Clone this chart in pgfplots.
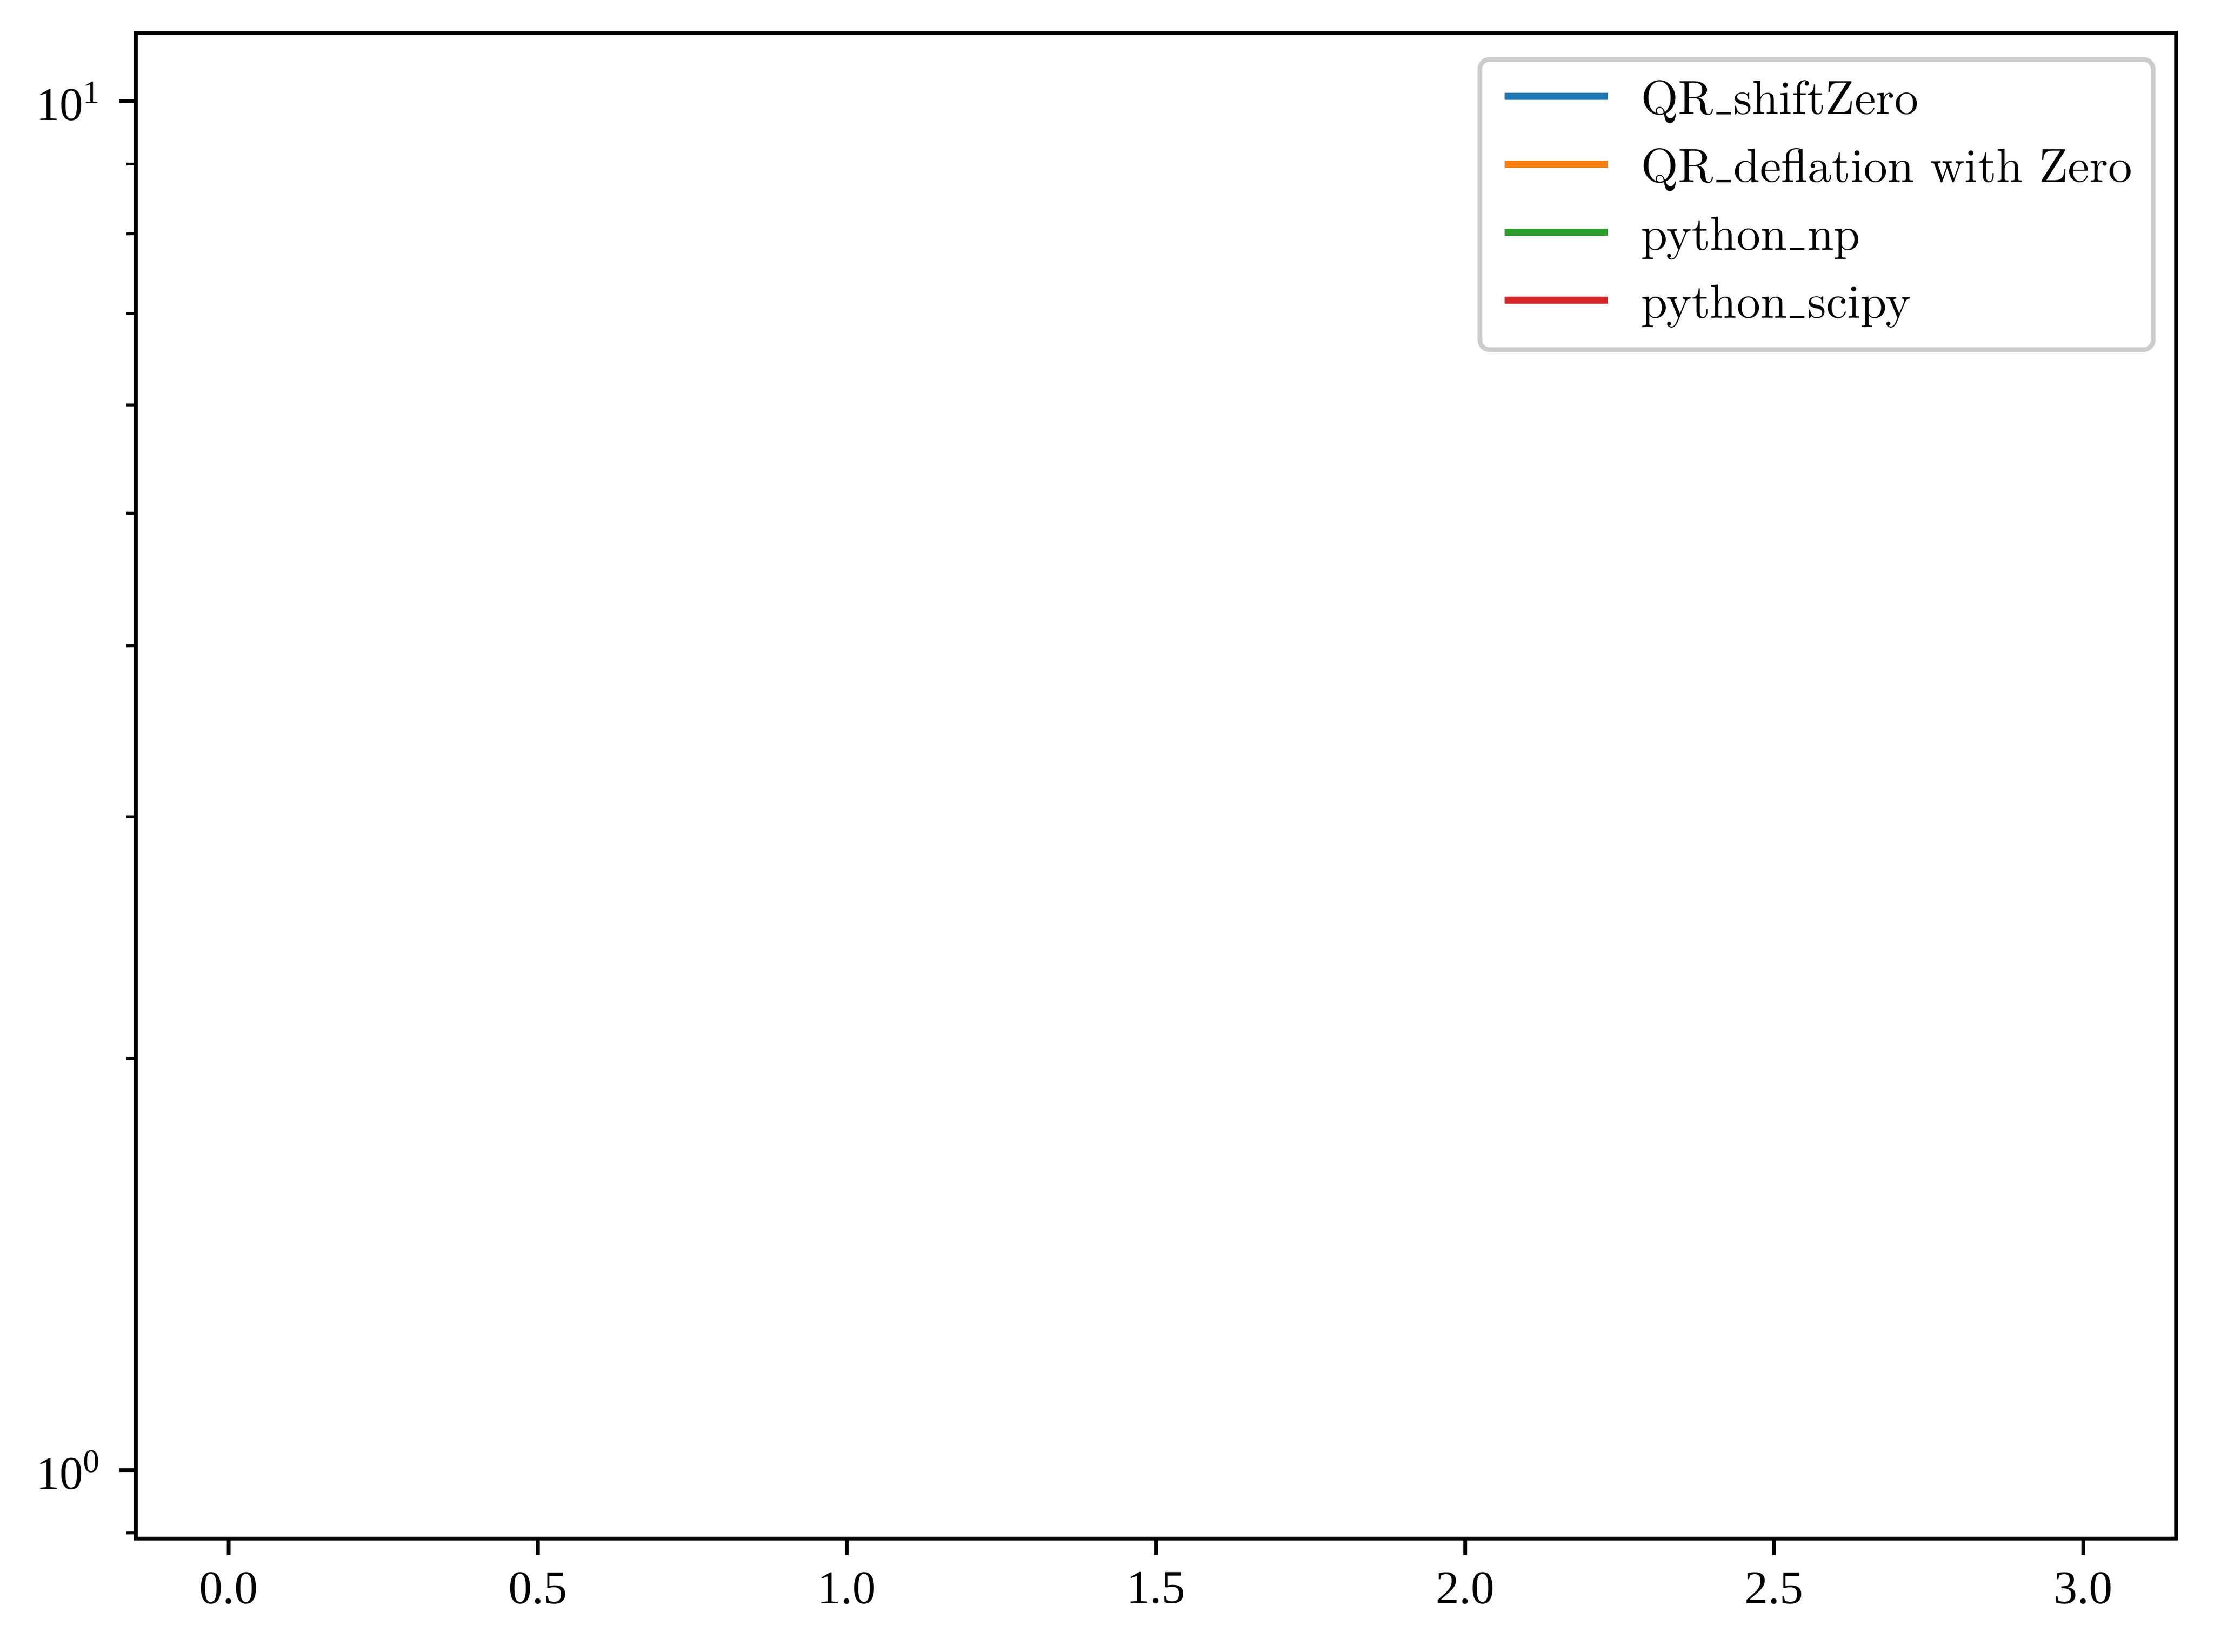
\documentclass[border=0pt]{standalone}
\usepackage{fontspec}
\newfontfamily\tickfont{Liberation Serif}
\usepackage{pgfplots}
\pgfplotsset{compat=1.18}
\definecolor{tabblue}{HTML}{1F77B4}
\definecolor{taborange}{HTML}{FF7F0E}
\definecolor{tabgreen}{HTML}{2CA02C}
\definecolor{tabred}{HTML}{D62728}
% underscore drawn as a rule, like plain TeX's \_
\newcommand\us{\leavevmode\kern.06em\vbox{\hrule width.3em height 0.45pt}\kern.06em}
\begin{document}
\begin{tikzpicture}
\begin{axis}[
    at={(0,0)}, anchor=south west,
    scale only axis,
    width=435.4pt, height=321.3pt,
    ymode=log,
    xmin=-0.15, xmax=3.15,
    ymin=0.8913, ymax=11.22,
    xtick={0,0.5,1,1.5,2,2.5,3},
    xticklabels={0.0,0.5,1.0,1.5,2.0,2.5,3.0},
    ytick={1,10},
    yticklabels={10\textsuperscript{0},10\textsuperscript{1}},
    minor ytick={0.9,2,3,4,5,6,7,8,9},
    tick pos=left, tick align=outside,
    major tick length=3.5pt, minor tick length=2pt,
    every tick/.style={black, line width=0.8pt},
    minor tick style={line width=0.6pt},
    axis line style={line width=0.8pt},
    tick label style={font=\fontsize{10}{12}\tickfont, inner sep=0pt},
    xticklabel style={yshift=-3.5pt},
    yticklabel style={xshift=-3.5pt},
    legend image code/.code={
        \draw[#1] (0pt,1.3pt) -- (22pt,1.3pt);
        \path (0pt,1.3pt) (28.4pt,1.3pt);
    },
    legend cell align=left,
    legend style={
        at={(1,1)}, anchor=north east, xshift=-4.4pt, yshift=-5.2pt,
        draw=black!20, line width=1pt, rounded corners=2pt,
        fill=white, fill opacity=0.8, text opacity=1,
        inner xsep=4.5pt, inner ysep=4.7pt,
        row sep=5.5pt,
        font=\fontsize{10.2}{12}\selectfont,
        nodes={inner sep=0pt, text height=7pt, text depth=2pt},
    },
]
% no data are drawn in the reference, only the legend entries
\addlegendimage{tabblue, line width=1.5pt}
\addlegendentry{QR\us shiftZero}
\addlegendimage{taborange, line width=1.5pt}
\addlegendentry{QR\us deflation with Zero}
\addlegendimage{tabgreen, line width=1.5pt}
\addlegendentry{python\us np}
\addlegendimage{tabred, line width=1.5pt}
\addlegendentry{python\us scipy}
\end{axis}
\pgfresetboundingbox
\useasboundingbox (-29pt,-24.1pt) rectangle (443.5pt,328.3pt);
\end{tikzpicture}
\end{document}
